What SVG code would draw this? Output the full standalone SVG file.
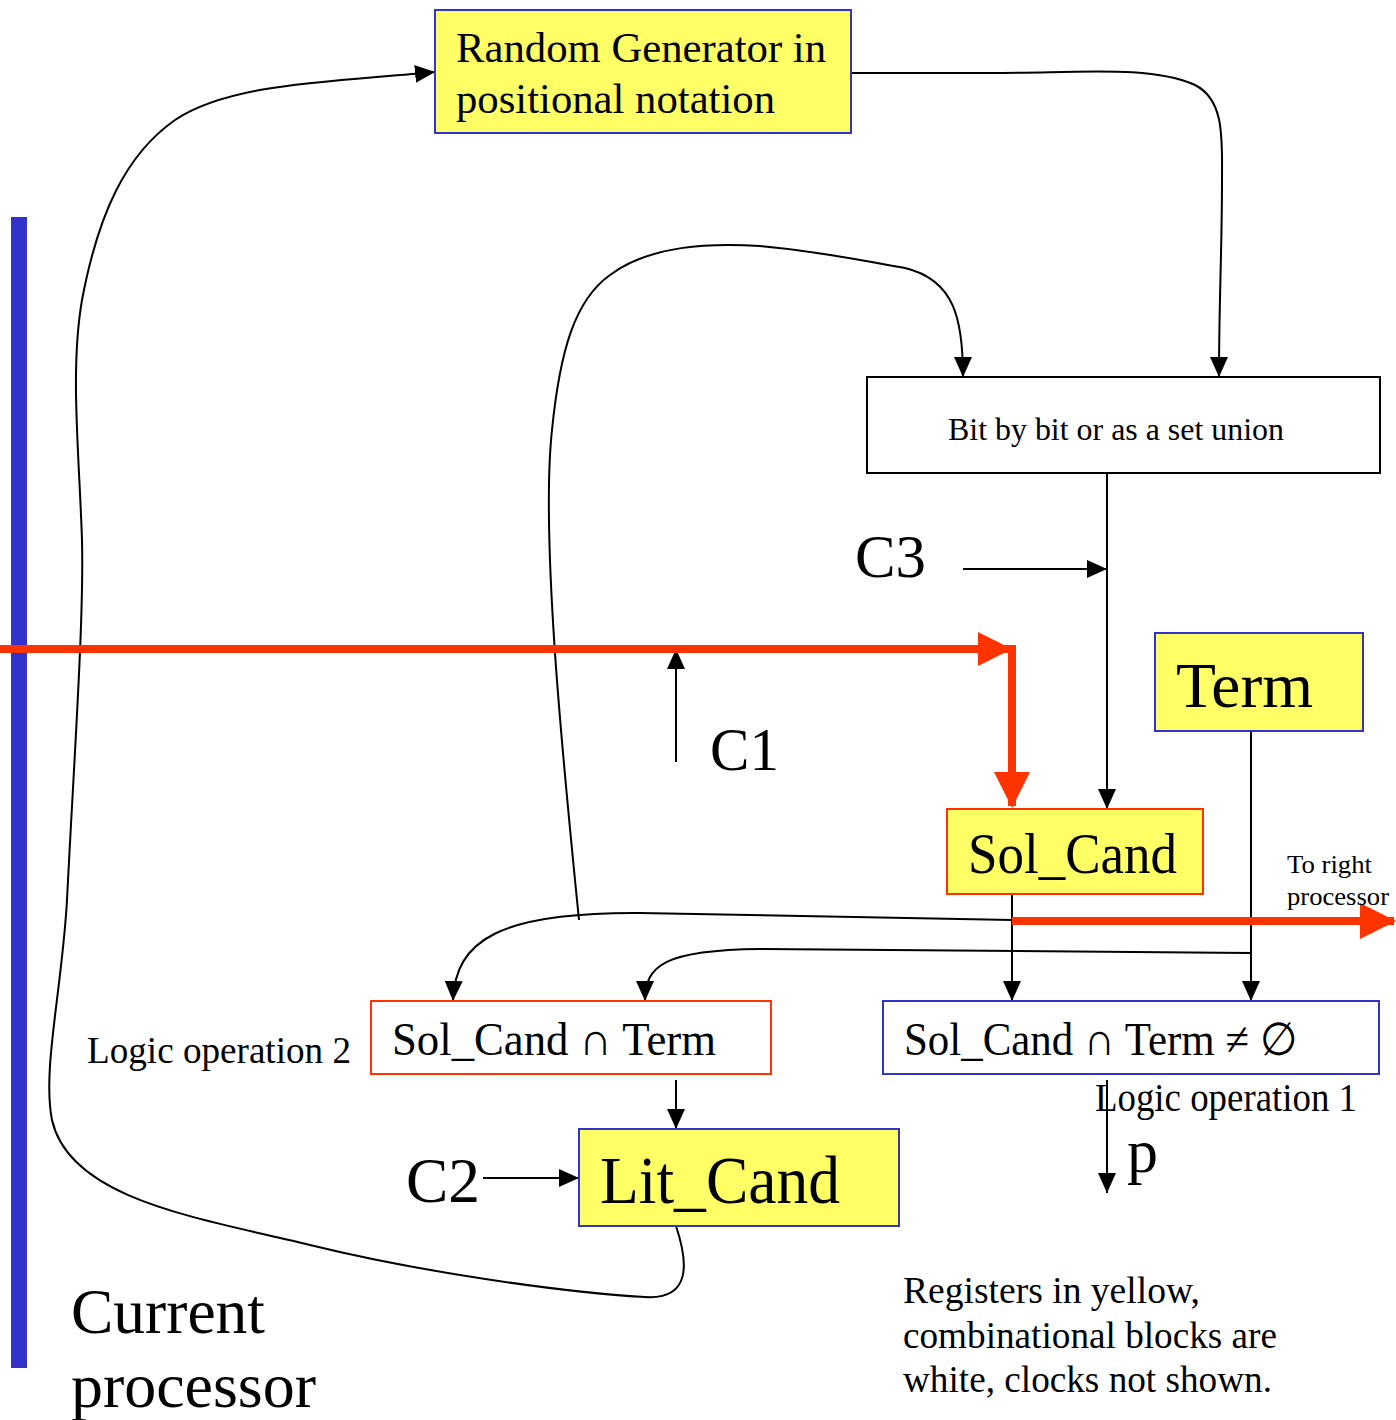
<svg xmlns="http://www.w3.org/2000/svg" width="1396" height="1420" viewBox="0 0 1396 1420">
  <defs>
    <marker id="arr" viewBox="0 0 20 20" refX="20" refY="10" markerWidth="20" markerHeight="20" markerUnits="userSpaceOnUse" orient="auto">
      <path d="M0,1 L20,10 L0,19 Z" fill="#000"/>
    </marker>
    <marker id="arrRed" viewBox="0 0 36 36" refX="34" refY="18" markerWidth="36" markerHeight="36" markerUnits="userSpaceOnUse" orient="auto">
      <path d="M0,0 L36,18 L0,36 Z" fill="#ff3300"/>
    </marker>
  </defs>
  <style>
    text { font-family: "Liberation Serif", "Times New Roman", serif; fill: #000; }
    .reg { fill: #ffff66; }
    .blue { stroke: #3333cc; stroke-width: 2; }
    .red { stroke: #ff3300; stroke-width: 2; }
    .comb { fill: #fff; }
    .wire { fill: none; stroke: #000; stroke-width: 2; }
    .bus { fill: none; stroke: #ff3300; stroke-width: 8; }
  </style>
  <rect width="1396" height="1420" fill="#fff"/>

  <!-- processor boundary -->
  <rect x="11" y="217" width="16" height="1151" fill="#3333cc"/>

  <g id="connectors">
    <!-- Random generator to union block -->
    <path class="wire" d="M851,73 L990,73 C1080,73 1150,65 1195,85 C1225,100 1222,140 1222,180 C1222,250 1219,300 1219,377" marker-end="url(#arr)"/>
    <!-- union block to Sol_Cand -->
    <path class="wire" d="M1107,473 L1107,809" marker-end="url(#arr)"/>
    <!-- C3 clock -->
    <path class="wire" d="M963,569 L1107,569" marker-end="url(#arr)"/>
    <!-- C1 clock -->
    <path class="wire" d="M676,762 L676,649" marker-end="url(#arr)"/>
    <!-- Sol_Cand feedback to union block -->
    <path class="wire" d="M579,920 C565,780 540,540 552,430 C560,350 575,300 610,275 C650,245 710,243 760,246 C810,250 860,260 905,268 C955,280 963,320 963,377" marker-end="url(#arr)"/>
    <!-- Sol_Cand to logic operation 2 -->
    <path class="wire" d="M1012,920 L640,913 C500,912 455,940 453,1001" marker-end="url(#arr)"/>
    <!-- Term to logic operation 2 -->
    <path class="wire" d="M1251,953 L760,949 C665,950 645,965 645,1001" marker-end="url(#arr)"/>
    <!-- Sol_Cand to logic operation 1 -->
    <path class="wire" d="M1012,894 L1012,1001" marker-end="url(#arr)"/>
    <!-- Term to logic operation 1 -->
    <path class="wire" d="M1251,731 L1251,1001" marker-end="url(#arr)"/>
    <!-- logic operation 2 to Lit_Cand -->
    <path class="wire" d="M676,1080 L676,1129" marker-end="url(#arr)"/>
    <!-- C2 clock -->
    <path class="wire" d="M483,1178 L579,1178" marker-end="url(#arr)"/>
    <!-- p output -->
    <path class="wire" d="M1107,1080 L1107,1193" marker-end="url(#arr)"/>
    <!-- Lit_Cand back to random generator -->
    <path class="wire" d="M676,1226 C688,1262 692,1300 645,1297 C560,1292 420,1272 310,1245 C200,1218 70,1200 52,1120 C42,1070 62,990 67,900 C74,760 84,620 82,540 C79,450 70,370 82,300 C98,215 125,155 175,120 C230,83 330,82 435,72" marker-end="url(#arr)"/>
    <!-- neighbour bus into Sol_Cand -->
    <path class="bus" d="M0,649 L1012,649 L1012,806" marker-end="url(#arrRed)"/>
    <path d="M978,632 L1012,649 L978,666 Z" fill="#ff3300"/>
    <!-- bus to right processor -->
    <path class="bus" d="M1012,921 L1394,921" marker-end="url(#arrRed)"/>
  </g>

  <g id="random-generator">
    <rect class="reg blue" x="435" y="10" width="416" height="123"/>
    <text x="456" y="62" font-size="42" textLength="370" lengthAdjust="spacingAndGlyphs">Random Generator in</text>
    <text x="456" y="113" font-size="42" textLength="319" lengthAdjust="spacingAndGlyphs">positional notation</text>
  </g>

  <g id="union-block">
    <rect class="comb" x="867" y="377" width="513" height="96" stroke="#000" stroke-width="2"/>
    <text x="948" y="440" font-size="31" textLength="336" lengthAdjust="spacingAndGlyphs">Bit by bit or as a set union</text>
  </g>

  <g id="term">
    <rect class="reg blue" x="1155" y="633" width="208" height="98"/>
    <text x="1176" y="707" font-size="64" textLength="137" lengthAdjust="spacingAndGlyphs">Term</text>
  </g>

  <g id="sol-cand">
    <rect class="reg red" x="947" y="809" width="256" height="85"/>
    <text x="968" y="873" font-size="56" textLength="209" lengthAdjust="spacingAndGlyphs">Sol_Cand</text>
  </g>

  <g id="logic-op-2">
    <rect class="comb red" x="371" y="1001" width="400" height="73"/>
    <text x="392" y="1055" font-size="46" textLength="324" lengthAdjust="spacingAndGlyphs">Sol_Cand ∩  Term</text>
  </g>

  <g id="logic-op-1">
    <rect class="comb blue" x="883" y="1001" width="496" height="73"/>
    <text x="904" y="1055" font-size="46" textLength="393" lengthAdjust="spacingAndGlyphs">Sol_Cand ∩ Term ≠ ∅</text>
  </g>

  <g id="lit-cand">
    <rect class="reg blue" x="579" y="1129" width="320" height="97"/>
    <text x="600" y="1203" font-size="68" textLength="240" lengthAdjust="spacingAndGlyphs">Lit_Cand</text>
  </g>

  <g id="labels">
    <text x="855" y="577" font-size="62" textLength="71" lengthAdjust="spacingAndGlyphs">C3</text>
    <text x="710" y="770" font-size="62" textLength="69" lengthAdjust="spacingAndGlyphs">C1</text>
    <text x="406" y="1202" font-size="64" textLength="74" lengthAdjust="spacingAndGlyphs">C2</text>
    <text x="1127" y="1172" font-size="62" textLength="31" lengthAdjust="spacingAndGlyphs">p</text>
    <text x="87" y="1063" font-size="38" textLength="264" lengthAdjust="spacingAndGlyphs">Logic operation 2</text>
    <text x="1095" y="1111" font-size="40" textLength="262" lengthAdjust="spacingAndGlyphs">Logic operation 1</text>
    <text x="1287" y="873" font-size="26" textLength="85" lengthAdjust="spacingAndGlyphs">To right</text>
    <text x="1287" y="905" font-size="26" textLength="102" lengthAdjust="spacingAndGlyphs">processor</text>
    <text x="71" y="1333" font-size="64" textLength="194" lengthAdjust="spacingAndGlyphs">Current</text>
    <text x="71" y="1407" font-size="64" textLength="245" lengthAdjust="spacingAndGlyphs">processor</text>
    <text x="903" y="1303" font-size="37" textLength="297" lengthAdjust="spacingAndGlyphs">Registers in yellow,</text>
    <text x="903" y="1348" font-size="37" textLength="374" lengthAdjust="spacingAndGlyphs">combinational blocks are</text>
    <text x="903" y="1392" font-size="37" textLength="369" lengthAdjust="spacingAndGlyphs">white, clocks not shown.</text>
  </g>
</svg>
